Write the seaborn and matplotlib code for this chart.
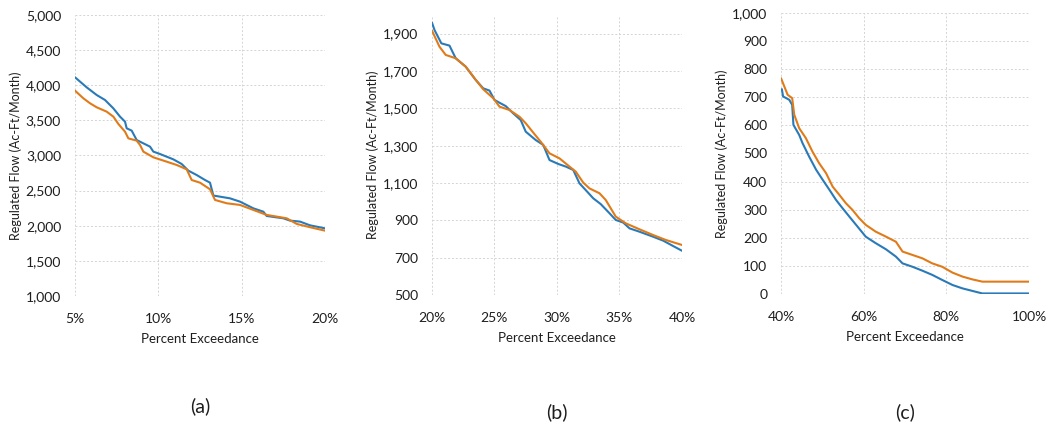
import matplotlib
matplotlib.use("Agg")
import matplotlib.pyplot as plt
import matplotlib.ticker as mticker
import pandas as pd
import seaborn as sns

# panel (a): 5% - 20% exceedance
a_blue_x = [5.0, 5.7, 6.3, 6.8, 7.3, 7.7, 8.0, 8.1, 8.4, 8.7, 9.1, 9.5, 9.7, 10.1, 10.9,
            11.4, 11.8, 12.3, 12.8, 13.1, 13.3, 13.7, 14.3, 14.9, 15.7, 16.3, 16.5,
            17.5, 17.9, 18.5, 19.1, 20.0]
a_blue_y = [4113, 3970, 3861, 3790, 3671, 3553, 3482, 3387, 3354, 3220, 3173, 3126, 3055,
            3021, 2945, 2879, 2784, 2722, 2651, 2613, 2430, 2414, 2390, 2343, 2248, 2200,
            2139, 2106, 2073, 2059, 2006, 1963]
a_orange_x = [5.0, 5.5, 5.9, 6.3, 6.9, 7.3, 7.6, 8.0, 8.2, 8.7, 8.9, 9.1, 9.7, 10.5, 11.1,
              11.7, 12.0, 12.5, 13.1, 13.4, 14.1, 14.9, 15.7, 16.5, 17.7, 18.3, 19.1, 20.0]
a_orange_y = [3923, 3814, 3743, 3686, 3624, 3553, 3449, 3339, 3244, 3211, 3150, 3055, 2974,
              2912, 2865, 2803, 2651, 2613, 2519, 2367, 2320, 2296, 2225, 2154, 2106, 2026,
              1979, 1930]

# panel (b): 20% - 40% exceedance
b_blue_x = [20.0, 20.2, 20.75, 21.4, 21.7, 21.9, 22.7, 23.5, 24.1, 24.6, 25.0, 25.4, 25.9,
            26.5, 27.1, 27.5, 28.3, 28.9, 29.4, 30.1, 30.7, 31.3, 31.8, 32.3, 32.9, 33.5,
            34.2, 34.7, 35.3, 35.8, 36.6, 37.7, 38.5, 39.3, 40.0]
b_blue_y = [1959, 1920, 1848, 1836, 1795, 1768, 1723, 1652, 1607, 1595, 1545, 1530, 1512,
            1473, 1437, 1375, 1330, 1304, 1223, 1202, 1188, 1170, 1098, 1062, 1018, 987,
            938, 902, 888, 857, 839, 812, 791, 762, 737]
b_orange_x = [20.0, 20.6, 21.1, 21.9, 22.7, 23.4, 24.1, 24.9, 25.4, 26.2, 27.0, 27.5, 28.1,
              28.7, 29.4, 30.2, 31.0, 31.5, 32.1, 32.6, 33.4, 33.9, 34.7, 35.5, 36.6,
              37.7, 38.7, 40.0]
b_orange_y = [1916, 1830, 1786, 1768, 1723, 1661, 1602, 1554, 1509, 1491, 1455, 1420, 1370,
              1321, 1259, 1232, 1188, 1161, 1102, 1071, 1045, 1009, 920, 884, 852, 821,
              795, 768]

# panel (c): 40% - 100% exceedance
c_blue_x = [40.2, 40.5, 42.0, 42.7, 43.0, 44.4, 45.2, 46.8, 48.5, 50.1, 51.7, 53.3, 54.9,
            56.5, 58.5, 60.5, 62.9, 65.4, 67.8, 69.4, 71.8, 74.2, 76.6, 79.0, 81.5, 83.9,
            86.3, 88.7, 100.0]
c_blue_y = [729, 703, 691, 673, 602, 566, 537, 489, 442, 406, 371, 335, 305, 276, 240, 204,
            181, 159, 133, 109, 97, 83, 68, 50, 32, 20, 11, 2, 2]
c_orange_x = [40.0, 41.6, 42.7, 43.2, 44.4, 46.0, 47.6, 49.2, 50.9, 52.5, 54.1, 55.7, 57.3,
              58.9, 60.5, 62.9, 65.4, 67.8, 69.4, 71.8, 74.2, 76.6, 79.0, 81.5, 83.9,
              86.3, 88.7, 100.0]
c_orange_y = [768, 709, 697, 638, 590, 555, 507, 466, 430, 382, 353, 323, 299, 270, 246, 222,
              204, 186, 151, 139, 127, 109, 97, 76, 62, 52, 44, 44]

BLUE = "#2a7ab8"
ORANGE = "#e07b1a"
TXT = "#1e1e1e"

sns.set_theme(style="white")
plt.rcParams["font.family"] = ["Lato", "DejaVu Sans"]

fig = plt.figure(figsize=(10.58, 4.33), dpi=100)

panels = [
    ("(a)", 0.062, [0.0709, 0.3164, 0.2363, 0.649], a_blue_x, a_blue_y, a_orange_x, a_orange_y,
     (5, 20), [5, 10, 15, 20], (1000, 5000), list(range(1000, 5001, 500))),
    ("(b)", 0.047, [0.4083, 0.3187, 0.2363, 0.6467], b_blue_x, b_blue_y, b_orange_x, b_orange_y,
     (20, 40), [20, 25, 30, 35, 40], (500, 2000), list(range(500, 2000, 200))),
    ("(c)", 0.047, [0.7382, 0.321, 0.2344, 0.649], c_blue_x, c_blue_y, c_orange_x, c_orange_y,
     (40, 100), [40, 60, 80, 100], (0, 1000), list(range(0, 1001, 100))),
]

for label, ly, rect, bx, by, ox, oy, xlim, xt, ylim, yt in panels:
    ax = fig.add_axes(rect)
    df_b = pd.DataFrame({"x": bx, "y": by})
    df_o = pd.DataFrame({"x": ox, "y": oy})
    sns.lineplot(data=df_b, x="x", y="y", ax=ax, color=BLUE, linewidth=1.5)
    sns.lineplot(data=df_o, x="x", y="y", ax=ax, color=ORANGE, linewidth=1.5)
    ax.set_xlim(*xlim)
    ax.set_ylim(*ylim)
    ax.set_xticks(xt)
    ax.set_yticks(yt)
    ax.xaxis.set_major_formatter(mticker.FuncFormatter(lambda v, p: f"{v:.0f}%"))
    ax.yaxis.set_major_formatter(mticker.FuncFormatter(lambda v, p: f"{v:,.0f}"))
    ax.grid(True, color="#d4d4d4", linestyle=(0, (2, 2)), linewidth=0.7)
    for s in ax.spines.values():
        s.set_visible(False)
    ax.tick_params(axis="both", labelsize=10, colors=TXT, length=0)
    ax.tick_params(axis="x", pad=12)
    ax.tick_params(axis="y", pad=10)
    ax.set_xlabel("Percent Exceedance", fontsize=9.5, color=TXT, labelpad=6)
    ax.set_ylabel("Regulated Flow (Ac-Ft/Month)", fontsize=9, color=TXT, labelpad=3)
    cx = rect[0] + rect[2] / 2
    fig.text(cx, ly, label, ha="center", va="center", fontsize=14, color=TXT)

fig.savefig("out.png", dpi=100, facecolor="white")
